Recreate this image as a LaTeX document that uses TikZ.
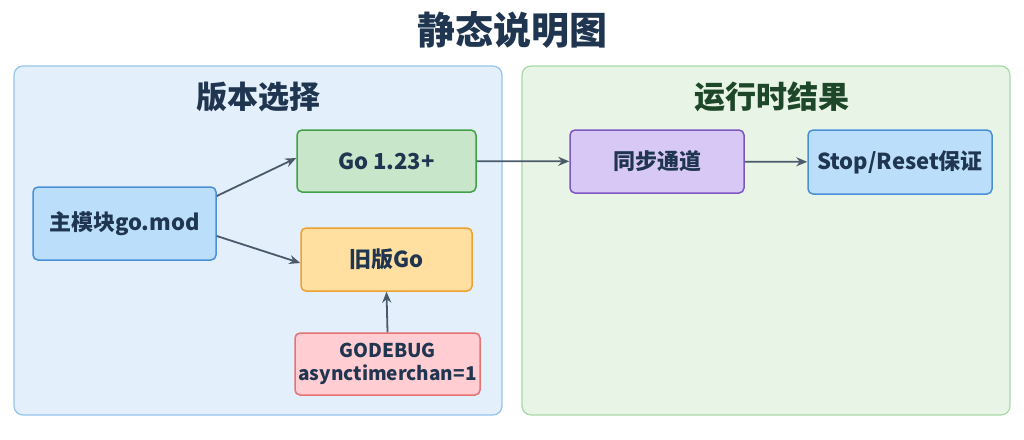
\documentclass[tikz,border=0pt]{standalone}
\usepackage{fontspec}
\setmainfont{Noto Sans CJK SC}
\usetikzlibrary{arrows.meta}
\definecolor{lpanel}{HTML}{E3EFFB}\definecolor{lborder}{HTML}{94C4EC}
\definecolor{rpanel}{HTML}{E8F5E6}\definecolor{rborder}{HTML}{A8D8A8}
\definecolor{headc}{HTML}{1F3550}\definecolor{headg}{HTML}{1E4628}\definecolor{arr}{HTML}{4A5A6A}
\definecolor{bluef}{HTML}{BBDEFB}\definecolor{blued}{HTML}{4A90D9}
\definecolor{greenf}{HTML}{C8E6C9}\definecolor{greend}{HTML}{43A047}
\definecolor{orangef}{HTML}{FFE0A0}\definecolor{oranged}{HTML}{F0A030}
\definecolor{redf}{HTML}{FFCDD2}\definecolor{redd}{HTML}{E57373}
\definecolor{purf}{HTML}{D7C8F5}\definecolor{purd}{HTML}{7E57C2}
\begin{document}
\begin{tikzpicture}[x=1pt,y=-1pt,
 box/.style={draw,line width=1.5pt,rounded corners=5pt,align=center,font=\fontsize{22}{26}\selectfont\bfseries,text=headc},
 panel/.style={line width=1.2pt,rounded corners=9pt},
 head/.style={font=\fontsize{31}{36}\selectfont\bfseries,text=headc},
 ar/.style={-{Stealth[length=11pt,width=9pt]},line width=1.8pt,draw=arr}]
\useasboundingbox (0,0) rectangle (1024,439);
\node[font=\fontsize{38}{44}\selectfont\bfseries,text=headc] (title) at (512,30) {静态说明图};
\draw[panel,fill=lpanel,draw=lborder] (14,66) rectangle (502,415);
\draw[panel,fill=rpanel,draw=rborder] (522,66) rectangle (1010,415);
\node[head] (lh) at (258,97) {版本选择};
\node[head,text=headg] (rh) at (772,97) {运行时结果};
\node[box,fill=bluef,draw=blued,minimum width=183pt,minimum height=73pt] (main) at (124.5,223.5) {主模块go.mod};
\node[box,fill=greenf,draw=greend,minimum width=179pt,minimum height=62pt] (go) at (386.5,161) {Go 1.23+};
\node[box,fill=orangef,draw=oranged,minimum width=171pt,minimum height=63pt] (old) at (386.5,259.5) {旧版Go};
\node[box,fill=redf,draw=redd,minimum width=185pt,minimum height=62pt,font=\fontsize{19}{23}\selectfont\bfseries] (dbg) at (387.5,364) {GODEBUG\\asynctimerchan=1};
\node[box,fill=purf,draw=purd,minimum width=174pt,minimum height=63pt] (sync) at (657,161.5) {同步通道};
\node[box,fill=bluef,draw=blued,minimum width=184pt,minimum height=64pt] (stop) at (900,162) {Stop/Reset保证};
\draw[ar] (main.east|-0,196) -- (go.west|-0,158);
\draw[ar] (main.east|-0,236) -- (old.west|-0,263);
\draw[ar] (dbg.north) -- (old.south);
\draw[ar] (go) -- (sync);
\draw[ar] (sync) -- (stop);
\end{tikzpicture}
\end{document}
